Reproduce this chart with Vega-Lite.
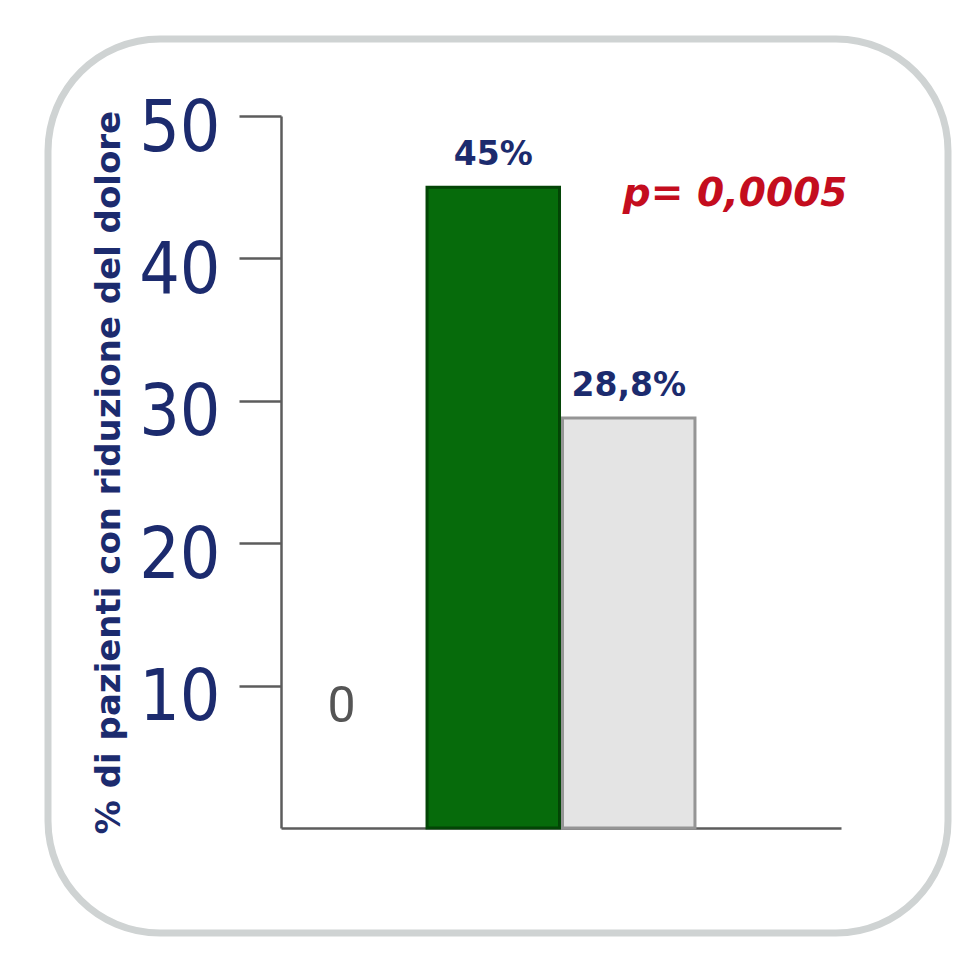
{
  "$schema": "https://vega.github.io/schema/vega-lite/v6.json",
  "width": 900,
  "height": 894,
  "autosize": {"type": "none"},
  "padding": {"left": 48, "top": 39, "right": 19, "bottom": 33},
  "background": "#ffffff",
  "config": {
    "view": {"fill": "#ffffff", "stroke": "#cfd3d3", "strokeWidth": 7, "cornerRadius": 112},
    "axis": {"labelOverlap": false, "labelFlush": false, "labelBound": false, "grid": false}
  },
  "datasets": {
    "barre": [
      {"studio": "A", "gruppo": "Trattamento", "pazienti": 45, "etichetta": "45%"},
      {"studio": "A", "gruppo": "Controllo", "pazienti": 28.8, "etichetta": "28,8%"}
    ],
    "nota": [
      {"studio": "A", "gruppo": "Controllo", "testo": "p= 0,0005", "livello": 43.7}
    ]
  },
  "layer": [
    {
      "data": {"name": "barre"},
      "mark": {"type": "bar", "strokeWidth": 3},
      "encoding": {
        "x": {
          "field": "studio", "type": "nominal",
          "scale": {"range": [233, 793], "paddingInner": 0, "paddingOuter": 0.545},
          "axis": {"orient": "bottom", "offset": -105, "ticks": false, "labels": false, "title": null, "domainColor": "#5c5c5c", "domainWidth": 2.5}
        },
        "xOffset": {
          "field": "gruppo", "type": "nominal",
          "scale": {"domain": ["Trattamento", "Controllo"], "paddingInner": 0.022, "paddingOuter": 0}
        },
        "y": {
          "field": "pazienti", "type": "quantitative",
          "scale": {"domain": [0, 50], "range": [789, 77], "nice": false},
          "axis": {
            "orient": "left", "offset": -233,
            "values": [0, 10, 20, 30, 40, 50],
            "title": "% di pazienti con riduzione del dolore",
            "titleFont": "DejaVu Sans", "titleFontWeight": "bold", "titleFontSize": 34, "titleColor": "#1c2b6e", "titlePadding": 12,
            "domainColor": "#5c5c5c", "domainWidth": 2.5,
            "tickColor": "#5c5c5c", "tickWidth": 2.5, "tickSize": 42,
            "tickOpacity": {"condition": {"test": "datum.value === 0", "value": 0}, "value": 1},
            "labelAngle": 0,
            "labelAlign": "right",
            "labelBaseline": "middle",
            "labelFont": {"condition": {"test": "datum.value === 0", "value": "Roboto"}, "value": "'Liberation Sans Narrow', 'DejaVu Sans Condensed', 'Liberation Sans', sans-serif"},
            "labelFontSize": {"condition": {"test": "datum.value === 0", "value": 50}, "value": 71},
            "labelColor": {"condition": {"test": "datum.value === 0", "value": "#555555"}, "value": "#1c2b6e"},
            "labelPadding": {"condition": {"test": "datum.value === 0", "value": -116}, "value": 19},
            "labelOffset": {"condition": {"test": "datum.value === 0", "value": -122}, "value": 13}
          }
        },
        "fill": {
          "field": "gruppo", "type": "nominal",
          "scale": {"domain": ["Trattamento", "Controllo"], "range": ["#066b0b", "#e4e4e4"]},
          "legend": null
        },
        "stroke": {
          "field": "gruppo", "type": "nominal",
          "scale": {"domain": ["Trattamento", "Controllo"], "range": ["#034506", "#959595"]},
          "legend": null
        }
      }
    },
    {
      "data": {"name": "barre"},
      "mark": {"type": "text", "baseline": "alphabetic", "dy": -22, "font": "DejaVu Sans", "fontWeight": "bold", "fontSize": 33, "fill": "#1c2b6e"},
      "encoding": {
        "x": {"field": "studio", "type": "nominal"},
        "xOffset": {"field": "gruppo", "type": "nominal"},
        "y": {"field": "pazienti", "type": "quantitative"},
        "text": {"field": "etichetta"}
      }
    },
    {
      "data": {"name": "nota"},
      "mark": {"type": "text", "align": "left", "baseline": "alphabetic", "dx": -6, "font": "DejaVu Sans", "fontWeight": "bold", "fontStyle": "italic", "fontSize": 39, "fill": "#c40d1e"},
      "encoding": {
        "x": {"field": "studio", "type": "nominal"},
        "xOffset": {"field": "gruppo", "type": "nominal"},
        "y": {"field": "livello", "type": "quantitative", "title": "% di pazienti con riduzione del dolore"},
        "text": {"field": "testo"}
      }
    }
  ]
}
